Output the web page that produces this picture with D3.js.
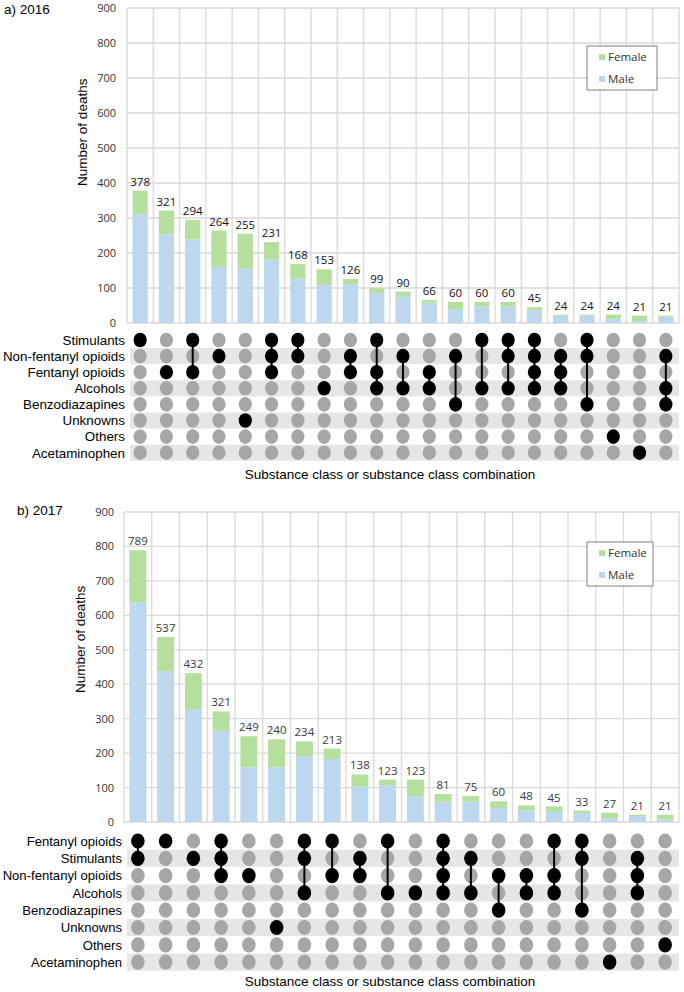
<!DOCTYPE html>
<html>
<head>
<meta charset="utf-8">
<script src="https://cdn.jsdelivr.net/npm/d3@7"></script>
<style>
  body { margin: 0; background: #fff; }
  svg { display: block; }
  .tick-label { font-family: "Open Sans", sans-serif; font-size: 11px; fill: #333; }
  .bar-label { font-family: "Open Sans", sans-serif; font-size: 11.5px; }
  .row-label { font-family: "Liberation Sans", Arial, sans-serif; fill: #000; }
  .axis-title { font-family: "Liberation Sans", Arial, sans-serif; font-size: 13.5px; fill: #000; }
  .legend-text { font-family: "Open Sans", sans-serif; font-size: 11.5px; fill: #333; }
</style>
</head>
<body>
<svg id="chart" width="684" height="992"></svg>
<script>
// 2016 panel
const rows2016 = ["Stimulants", "Non-fentanyl opioids", "Fentanyl opioids", "Alcohols",
  "Benzodiazapines", "Unknowns", "Others", "Acetaminophen"];
const total2016 = [378, 321, 294, 264, 255, 231, 168, 153, 126, 99, 90, 66, 60, 60, 60, 45, 24, 24, 24, 21, 21];
const male2016 = [311, 253, 239, 160, 155, 182, 128, 109, 111, 86, 76, 58, 39, 47, 47, 36, 21, 21, 12, 5, 18];
const female2016 = [67, 68, 55, 104, 100, 49, 40, 44, 15, 13, 14, 8, 21, 13, 13, 9, 3, 3, 12, 16, 3];
// row indexes (into rows2016) that are part of each combination
const combos2016 = [[0], [2], [0, 2], [1], [5], [0, 1, 2], [0, 1], [3], [1, 2], [0, 2, 3], [1, 3],
  [2, 3], [1, 4], [0, 3], [0, 1, 3], [0, 1, 2, 3], [1, 2, 3], [0, 1, 4], [6], [7], [1, 3, 4]];

// 2017 panel
const rows2017 = ["Fentanyl opioids", "Stimulants", "Non-fentanyl opioids", "Alcohols",
  "Benzodiazapines", "Unknowns", "Others", "Acetaminophen"];
const total2017 = [789, 537, 432, 321, 249, 240, 234, 213, 138, 123, 123, 81, 75, 60, 48, 45, 33, 27, 21, 21];
const male2017 = [638, 438, 327, 265, 159, 159, 191, 183, 103, 107, 74, 59, 59, 40, 34, 29, 26, 10, 17, 7];
const female2017 = [151, 99, 105, 56, 90, 81, 43, 30, 35, 16, 49, 22, 16, 20, 14, 16, 7, 17, 4, 14];
const combos2017 = [[0, 1], [0], [1], [0, 1, 2], [2], [5], [0, 1, 3], [0, 2], [1, 2], [0, 3], [3],
  [0, 1, 2, 3], [1, 3], [2, 4], [2, 3], [0, 2, 3], [0, 1, 4], [7], [1, 2, 3], [6]];

const yTicks = [0, 100, 200, 300, 400, 500, 600, 700, 800, 900];
const seriesNames = ["Female", "Male"];
const xTitle = "Substance class or substance class combination";
const yTitle = "Number of deaths";

const colors = { male: "#bdd7ee", female: "#b4df9c", grid: "#d9d9d9",
  dotOff: "#a6a6a6", dotOn: "#000", band: "#e6e6e6" };

let svg = d3.select("#chart");

function draw_panel(p) {
  let g = svg.append("g");
  let n = p.total.length;

  let x = d3.scaleBand()
    .domain(d3.range(n))
    .range([p.left, p.right])
    .paddingInner(0);
  let y = d3.scaleLinear()
    .domain([0, 900])
    .range([p.bottom, p.top]);
  let rowY = d3.scalePoint()
    .domain(p.rows)
    .range([p.rowTop, p.rowTop + p.rowStep * (p.rows.length - 1)]);

  // grid
  g.append("g")
    .selectAll("line")
    .data(yTicks)
    .join("line")
    .attr("x1", p.left).attr("x2", p.right)
    .attr("y1", d => y(d)).attr("y2", d => y(d))
    .attr("stroke", colors.grid).attr("stroke-width", 1.3);
  g.append("g")
    .selectAll("line")
    .data(d3.range(n + 1))
    .join("line")
    .attr("x1", i => p.left + i * x.bandwidth())
    .attr("x2", i => p.left + i * x.bandwidth())
    .attr("y1", y(900)).attr("y2", y(0))
    .attr("stroke", colors.grid).attr("stroke-width", 1.3);

  // y axis labels
  let axis = d3.axisLeft(y).tickValues(yTicks).tickSize(0).tickPadding(0);
  let ax = g.append("g")
    .attr("transform", "translate(" + p.tickX + ",0)")
    .call(axis);
  ax.select(".domain").remove();
  ax.selectAll("text").attr("class", "tick-label").attr("fill", null);

  g.append("text")
    .attr("class", "axis-title")
    .attr("text-anchor", "middle")
    .attr("transform", "translate(" + p.yTitleX + "," + y(p.yTitleAt) + ") rotate(-90)")
    .text(yTitle);

  // stacked bars
  let bw = x.bandwidth() * p.barRatio;
  let off = (x.bandwidth() - bw) / 2;
  let bars = g.append("g");
  bars.selectAll("rect.male")
    .data(p.male)
    .join("rect")
    .attr("class", "male")
    .attr("x", (d, i) => x(i) + off)
    .attr("width", bw)
    .attr("y", d => y(d))
    .attr("height", d => y(0) - y(d))
    .attr("fill", colors.male);
  bars.selectAll("rect.female")
    .data(p.female)
    .join("rect")
    .attr("class", "female")
    .attr("x", (d, i) => x(i) + off)
    .attr("width", bw)
    .attr("y", (d, i) => y(p.male[i] + d))
    .attr("height", (d, i) => y(p.male[i]) - y(p.male[i] + d))
    .attr("fill", colors.female);
  bars.selectAll("text")
    .data(p.total)
    .join("text")
    .attr("class", "bar-label")
    .attr("fill", p.labelColor)
    .attr("text-anchor", "middle")
    .attr("x", (d, i) => x(i) + x.bandwidth() / 2)
    .attr("y", (d, i) => y(p.male[i] + p.female[i]) - 5)
    .text(d => d);

  // legend
  let leg = g.append("g").attr("transform", "translate(" + p.legend[0] + "," + p.legend[1] + ")");
  leg.append("rect")
    .attr("width", p.legend[2]).attr("height", 44)
    .attr("fill", "#fff").attr("stroke", "#7f7f7f").attr("stroke-width", 1);
  leg.selectAll("g")
    .data(seriesNames)
    .join("g")
    .attr("transform", (d, i) => "translate(12," + (11 + i * 22) + ")")
    .each(function (d) {
      d3.select(this).append("rect")
        .attr("x", 0).attr("y", -3).attr("width", 6).attr("height", 6)
        .attr("fill", d == "Male" ? colors.male : colors.female);
      d3.select(this).append("text")
        .attr("class", "legend-text")
        .attr("x", 9).attr("y", 4)
        .text(d);
    });

  // matrix
  let m = g.append("g");
  m.selectAll("rect")
    .data(p.rows.filter((r, i) => i % 2 == 1))
    .join("rect")
    .attr("x", p.left + 3)
    .attr("width", p.right - p.left - 3)
    .attr("y", r => rowY(r) - p.rowStep / 2)
    .attr("height", p.rowStep)
    .attr("fill", colors.band);
  m.selectAll("text")
    .data(p.rows)
    .join("text")
    .attr("class", "row-label")
    .attr("font-size", p.rowFont)
    .attr("text-anchor", "end")
    .attr("x", p.left - 2)
    .attr("y", r => rowY(r) + p.rowFont * 0.36)
    .text(r => r);

  let cols = m.selectAll("g.col")
    .data(p.combos)
    .join("g")
    .attr("class", "col")
    .attr("transform", (d, i) => "translate(" + (x(i) + x.bandwidth() / 2) + ",0)");
  cols.each(function (combo) {
    let c = d3.select(this);
    c.selectAll("ellipse")
      .data(p.rows)
      .join("ellipse")
      .attr("cy", r => rowY(r))
      .attr("rx", p.dotR[0]).attr("ry", p.dotR[1])
      .attr("fill", (r, j) => combo.includes(j) ? colors.dotOn : colors.dotOff);
    if (combo.length > 1) {
      c.insert("line", "ellipse")
        .attr("y1", rowY(p.rows[d3.min(combo)]))
        .attr("y2", rowY(p.rows[d3.max(combo)]))
        .attr("stroke", "#000").attr("stroke-width", 2);
    }
  });
  // line drawn on top of grey dots in between, like the original
  cols.each(function (combo) {
    if (combo.length > 1) {
      let c = d3.select(this);
      c.select("line").raise();
      c.selectAll("ellipse").filter((r, j) => combo.includes(j)).raise();
    }
  });

  g.append("text")
    .attr("class", "axis-title")
    .attr("text-anchor", "middle")
    .attr("x", p.xTitleX).attr("y", p.xTitleY)
    .text(xTitle);

  g.append("text")
    .attr("class", "axis-title")
    .attr("font-size", 14)
    .attr("x", p.tag[1]).attr("y", p.tag[2])
    .text(p.tag[0]);
}

draw_panel({
  rows: rows2016, total: total2016, male: male2016, female: female2016, combos: combos2016,
  left: 127, right: 679, top: 8, bottom: 323, tickX: 116, barRatio: 0.58,
  yTitleX: 87, yTitleAt: 545, labelColor: "#111",
  legend: [587, 46, 70],
  rowTop: 340, rowStep: 16.1, rowFont: 13.4, dotR: [6.6, 7.3],
  xTitleX: 390, xTitleY: 479, tag: ["a) 2016", 4, 14]
});

draw_panel({
  rows: rows2017, total: total2017, male: male2017, female: female2017, combos: combos2017,
  left: 124, right: 679, top: 512, bottom: 822, tickX: 114, barRatio: 0.61,
  yTitleX: 85, yTitleAt: 530, labelColor: "#3a3a3a",
  legend: [587, 542, 66],
  rowTop: 841, rowStep: 17.3, rowFont: 13.1, dotR: [6.8, 7.6],
  xTitleX: 390, xTitleY: 986, tag: ["b) 2017", 17, 515]
});
</script>
</body>
</html>
